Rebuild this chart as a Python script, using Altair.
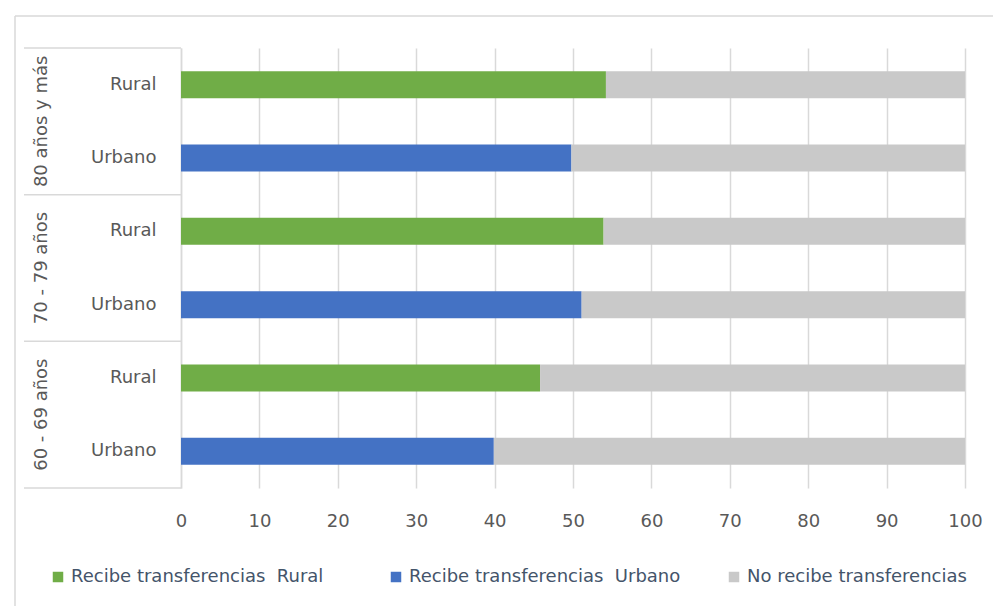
import altair as alt
import pandas as pd

# ---- data ----
groups = ["80 años y más", "70 - 79 años", "60 - 69 años"]
areas = ["Rural", "Urbano"]
recibe_rural = [54.2, 53.9, 45.8]    # per group
recibe_urbano = [49.8, 51.1, 39.9]   # per group
series = ["Recibe transferencias\u00a0 Rural", "Recibe transferencias\u00a0 Urbano", "No recibe transferencias"]
colors = ["#70AD47", "#4472C4", "#C9C9C9"]
x_ticks = [0, 10, 20, 30, 40, 50, 60, 70, 80, 90, 100]

FONT = "DejaVu Sans"
GRID = "#D9D9D9"

keys = []
rows = []
for g, vr, vu in zip(groups, recibe_rural, recibe_urbano):
    for a, v in zip(areas, [vr, vu]):
        k = f"{g}|{a}"
        keys.append(k)
        s = series[0] if a == "Rural" else series[1]
        rows.append({"key": k, "serie": s, "value": v, "ord": 0})
        rows.append({"key": k, "serie": series[2], "value": round(100 - v, 1), "ord": 1})
bars_df = pd.DataFrame(rows)

yscale = alt.Scale(domain=keys, paddingInner=0, paddingOuter=0)
yaxis = alt.Axis(title=None, ticks=False, domainColor=GRID, domainWidth=1.5,
                 labelExpr="split(datum.label, '|')[1]", labelAlign="right",
                 labelPadding=25, labelFontSize=18, labelColor="#595959",
                 labelFont=FONT, grid=False)

bars = alt.Chart(bars_df).mark_bar(size=27).encode(
    x=alt.X("value:Q", stack="zero",
            scale=alt.Scale(domain=[0, 100], nice=False),
            axis=alt.Axis(values=x_ticks, title=None, grid=True, gridColor=GRID,
                          gridWidth=1.5, domain=False, ticks=False, labelPadding=24,
                          labelFlush=False,
                          labelFontSize=18, labelColor="#595959", labelFont=FONT)),
    y=alt.Y("key:N", scale=yscale, axis=yaxis),
    color=alt.Color("serie:N", scale=alt.Scale(domain=series, range=colors),
                    legend=alt.Legend(title=None, orient="none", legendX=-132, legendY=520,
                                      direction="horizontal", columns=3, gridAlign="all",
                                      columnPadding=44, symbolType="square", symbolSize=110,
                                      symbolStrokeWidth=0, labelFontSize=18,
                                      labelColor="#44546A", labelFont=FONT, labelLimit=500)),
    order=alt.Order("ord:Q"),
)

group_df = pd.DataFrame({"key": [f"{g}|Rural" for g in groups], "group": groups})

group_tops = alt.Chart(group_df).mark_rule(color=GRID, strokeWidth=1.5).encode(
    y=alt.Y("key:N", scale=yscale, bandPosition=0, axis=yaxis),
    x=alt.value(-157), x2=alt.value(0),
)
group_bottom = alt.Chart(pd.DataFrame({"key": [keys[-1]]})).mark_rule(color=GRID, strokeWidth=1.5).encode(
    y=alt.Y("key:N", scale=yscale, bandPosition=1, axis=yaxis),
    x=alt.value(-157), x2=alt.value(0),
)
group_text = alt.Chart(group_df).mark_text(
    angle=270, align="center", baseline="middle", fontSize=18, color="#595959", font=FONT
).encode(
    y=alt.Y("key:N", scale=yscale, bandPosition=1, axis=yaxis),
    x=alt.value(-139),
    text="group:N",
)

frame_df = pd.DataFrame({"f": [1]})
frame_top = alt.Chart(frame_df).mark_rule(color=GRID, strokeWidth=1.5).encode(
    x=alt.value(-166), x2=alt.value(812), y=alt.value(-32)
)
frame_left = alt.Chart(frame_df).mark_rule(color=GRID, strokeWidth=1.5).encode(
    x=alt.value(-166), y=alt.value(-32), y2=alt.value(558)
)

chart = alt.layer(bars, group_tops, group_bottom, group_text, frame_top, frame_left).properties(
    width=784, height=440,
    padding={"left": 6, "top": 7, "right": 0, "bottom": 0},
).configure_view(stroke=None)

chart.save("out.html", embed_options={"renderer": "svg", "actions": False})
